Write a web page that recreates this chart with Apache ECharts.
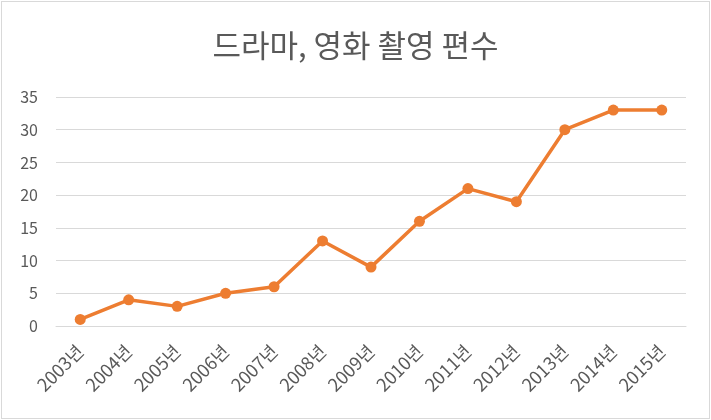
<!DOCTYPE html>
<html>
<head>
<meta charset="utf-8">
<script src="https://cdn.jsdelivr.net/npm/echarts@6/dist/echarts.min.js"></script>
<style>
    html, body { margin: 0; padding: 0; background: #fff; }
    #main { position: absolute; left: 1px; top: 1px; width: 707px; height: 416px; border: 1px solid #d9d9d9; }
</style>
</head>
<body>
<div id="main"></div>
<script type="text/javascript">
    // 데이터
    var years = ['2003년', '2004년', '2005년', '2006년', '2007년', '2008년', '2009년',
                 '2010년', '2011년', '2012년', '2013년', '2014년', '2015년'];
    var counts = [1, 4, 3, 5, 6, 13, 9, 16, 21, 19, 30, 33, 33];
    var yTicks = { min: 0, max: 35, interval: 5 };
    var titleText = '드라마, 영화 촬영 편수';

    var myChart = echarts.init(document.getElementById('main'));
    var option = {
        animation: false,
        textStyle: { fontFamily: 'Noto Sans CJK KR' },
        title: {
            text: titleText,
            left: 'center',
            top: 23,
            textStyle: { fontSize: 31, fontWeight: 'normal', color: '#595959', fontFamily: 'Noto Sans CJK KR' }
        },
        grid: { left: 54, right: 23, top: 95, bottom: 92 },
        xAxis: {
            type: 'category',
            data: years,
            boundaryGap: true,
            axisLine: { lineStyle: { color: '#d9d9d9' } },
            axisTick: { show: false },
            axisLabel: { rotate: 45, color: '#595959', fontSize: 18, margin: 22 }
        },
        yAxis: {
            type: 'value',
            min: yTicks.min,
            max: yTicks.max,
            interval: yTicks.interval,
            axisLine: { show: false },
            axisTick: { show: false },
            splitLine: { lineStyle: { color: '#d9d9d9' } },
            axisLabel: { color: '#595959', fontSize: 16, margin: 18 }
        },
        series: [{
            type: 'line',
            data: counts,
            symbol: 'circle',
            symbolSize: 11,
            itemStyle: { color: '#ED7D31' },
            lineStyle: { color: '#ED7D31', width: 3.5 }
        }]
    };
    myChart.setOption(option);
</script>
</body>
</html>
